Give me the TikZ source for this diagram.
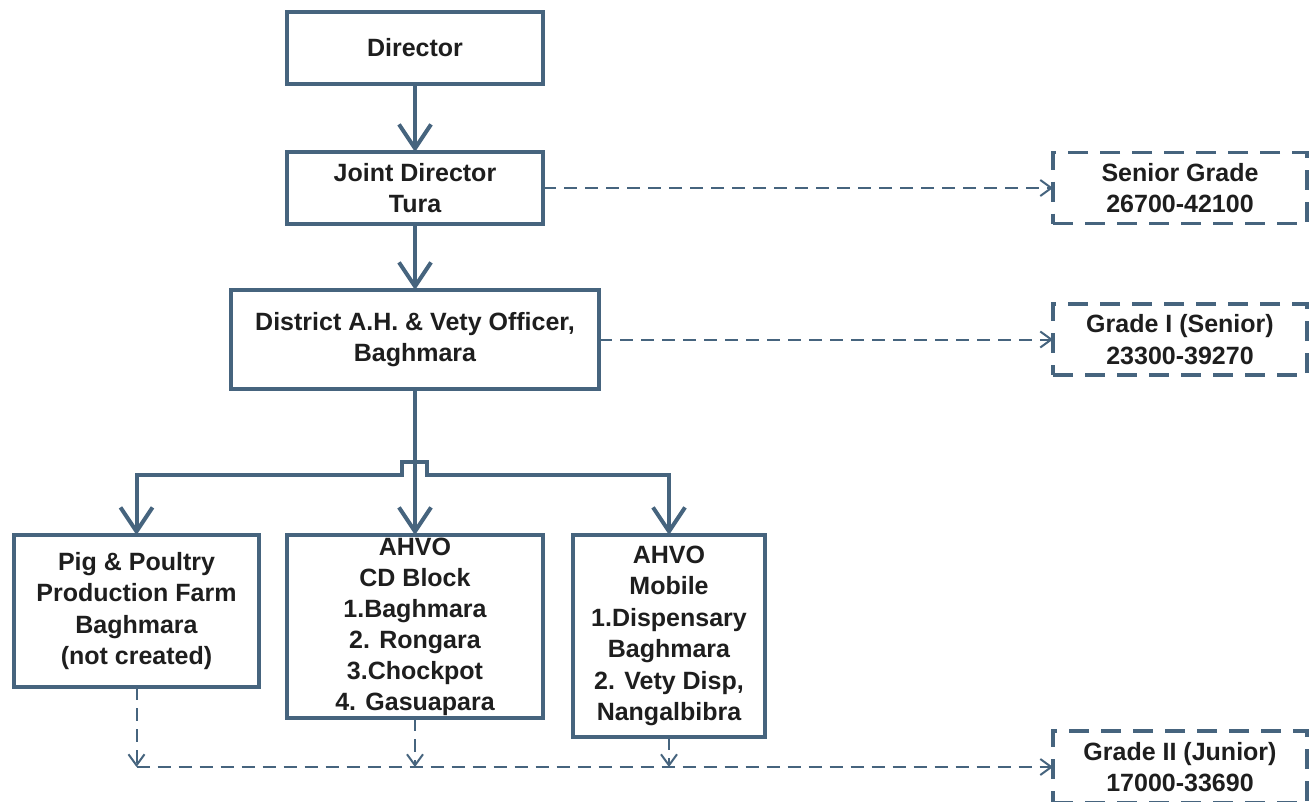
\documentclass[tikz,border=0pt]{standalone}
\usepackage{fontspec}
\setmainfont{Liberation Sans}
\usetikzlibrary{positioning}
\usetikzlibrary{arrows.meta,calc}
\definecolor{boxline}{HTML}{46647E}
\definecolor{boxtext}{HTML}{1E1E1E}
\tikzset{solidtip/.tip={Straight Barb[length=24pt,width=32pt]}}
\tikzset{dashtip/.tip={Straight Barb[length=11pt,width=16pt]}}
\tikzset{line/.style={draw=boxline, line width=4pt, -solidtip}}
\tikzset{dashline/.style={draw=boxline, line width=2pt, dash pattern=on 13pt off 8pt, -dashtip}}

\begin{document}
\begin{tikzpicture}[x=1pt,y=-1pt]
\tikzstyle{block} = [rectangle, draw=boxline, line width=3.5pt, text=boxtext, font=\fontsize{25}{31.5}\selectfont\bfseries, align=center, inner sep=0pt, outer sep=0pt, minimum width=256pt, minimum height=72pt]
\tikzstyle{grade} = [block, dash pattern=on 20pt off 12pt, minimum width=254pt, minimum height=71pt]
\useasboundingbox (0,0) rectangle (1309,801);
\clip (0,0) rectangle (1309,801);

% blocks
    \node [block] (director) at (415,48) {Director};
    \node [block, below=68pt of director] (joint) {Joint Director\\Tura};
    \node [block, below=66pt of joint, minimum width=368pt, minimum height=99pt] (district) {District A.H. \& Vety Officer,\\Baghmara};
    \node [block, anchor=north, minimum height=183pt, font=\fontsize{25}{31}\selectfont\bfseries] (cdblock) at (415,535) {AHVO\\CD Block\\1.Baghmara\\2. Rongara\\3.Chockpot\\4. Gasuapara};
    \node [block, anchor=north, minimum width=245pt, minimum height=152pt] (pig) at (136.5,535) {Pig \& Poultry\\Production Farm\\Baghmara\\(not created)};
    \node [block, anchor=north, minimum width=192pt, minimum height=202pt] (mobile) at (669,535) {AHVO\\Mobile\\1.Dispensary\\Baghmara\\2. Vety Disp,\\Nangalbibra};
% grades
    \node [grade, right=510pt of joint] (senior) {Senior Grade\\26700-42100};
    \node [grade, right=454pt of district] (gradeI) {Grade I (Senior)\\23300-39270};
    \node [grade, anchor=north west, minimum height=72pt] (gradeII) at (1053,731) {Grade II (Junior)\\17000-33690};
% arrows
    \coordinate (hopL) at (402,475);
    \coordinate (hopR) at (427,475);
    \path [line] (director.south) -- (joint.north);
    \path [line] (joint.south) -- (district.north);
    \path [line] (district.south) -- (cdblock.north);
    \path [line, solidtip-solidtip] (pig.north) |- (hopL) -- ++(0,-13) -| (hopR) -| (mobile.north);
% dashed arrows
    \coordinate (junc) at (pig.south |- gradeII.west);
    \path [dashline] (joint.east) -- (senior.west);
    \path [dashline] (district.east) -- (gradeI.west);
    \path [dashline] (pig.south) -- (junc);
    \path [dashline] (junc) -- (gradeII.west);
    \path [dashline] (cdblock.south) -- (cdblock.south |- gradeII.west);
    \path [dashline] (mobile.south) -- (mobile.south |- gradeII.west);
\end{tikzpicture}
\end{document}
